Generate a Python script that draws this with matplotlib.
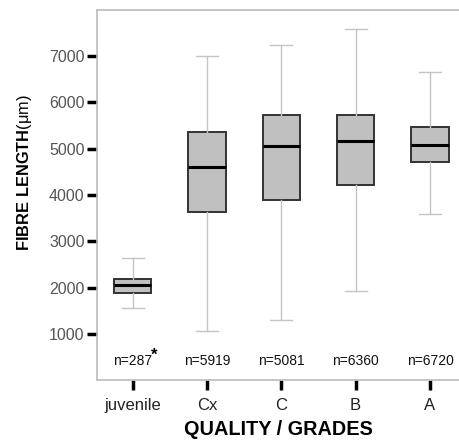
import matplotlib
matplotlib.use('Agg')
import matplotlib.pyplot as plt

plt.rcParams['font.family'] = ['Liberation Sans', 'DejaVu Sans']
plt.rcParams['mathtext.fontset'] = 'custom'
plt.rcParams['mathtext.rm'] = 'Liberation Sans'
plt.rcParams['mathtext.bf'] = 'Liberation Sans:bold'

# values (fibre length, um)
grades = ['juvenile', 'Cx', 'C', 'B', 'A']
whisker_low = [1550, 1070, 1300, 1935, 3580]
q1 = [1885, 3630, 3890, 4225, 4710]
median = [2050, 4615, 5055, 5170, 5085]
q3 = [2180, 5365, 5720, 5720, 5470]
whisker_high = [2635, 7010, 7240, 7590, 6655]
n_labels = ['n=287', 'n=5919', 'n=5081', 'n=6360', 'n=6720']

stats = []
for i, g in enumerate(grades):
    stats.append({'label': g, 'whislo': whisker_low[i], 'q1': q1[i], 'med': median[i],
                  'q3': q3[i], 'whishi': whisker_high[i], 'fliers': []})

fig = plt.figure(figsize=(4.59, 4.44), dpi=100)
ax = fig.add_axes([0.2113, 0.1441, 0.7887, 0.8334])

ax.bxp(stats, positions=range(len(grades)), widths=0.5, patch_artist=True,
       boxprops=dict(facecolor='#c0c0c0', edgecolor='#333333', linewidth=1.4),
       medianprops=dict(color='black', linewidth=2.2),
       whiskerprops=dict(color='#c4c4c4', linewidth=1.0),
       capprops=dict(color='#c4c4c4', linewidth=1.0), capwidths=0.3)

for i, lab in enumerate(n_labels):
    ax.text(i, 420, lab, ha='center', va='center', fontsize=10, color='#111111')
ax.text(0.29, 530, '*', ha='center', va='center', fontsize=12, fontweight='bold')

ax.set_xlim(-0.48, 4.39)
ax.set_ylim(0, 8000)
ax.set_yticks([1000, 2000, 3000, 4000, 5000, 6000, 7000])
ax.set_xticks(range(len(grades)))
ax.set_xticklabels(grades)

for s in ['left', 'top', 'bottom']:
    ax.spines[s].set_color('#bbbbbb')
    ax.spines[s].set_linewidth(1.2)
ax.spines['right'].set_visible(False)

ax.tick_params(axis='y', length=7, width=2.5, color='black', labelsize=11.5,
               labelcolor='#555555', pad=2)
ax.tick_params(axis='x', length=7, width=2.5, color='black', labelsize=12,
               labelcolor='#222222', pad=6)

ax.set_xlabel('QUALITY / GRADES', fontsize=14.3, fontweight='bold', labelpad=5)
ax.set_ylabel(r'$\mathbf{FIBRE\ LENGTH}$(μm)', fontsize=11.8)
ax.yaxis.set_label_coords(-0.175, 0.56)

fig.savefig('out.png', dpi=100)
